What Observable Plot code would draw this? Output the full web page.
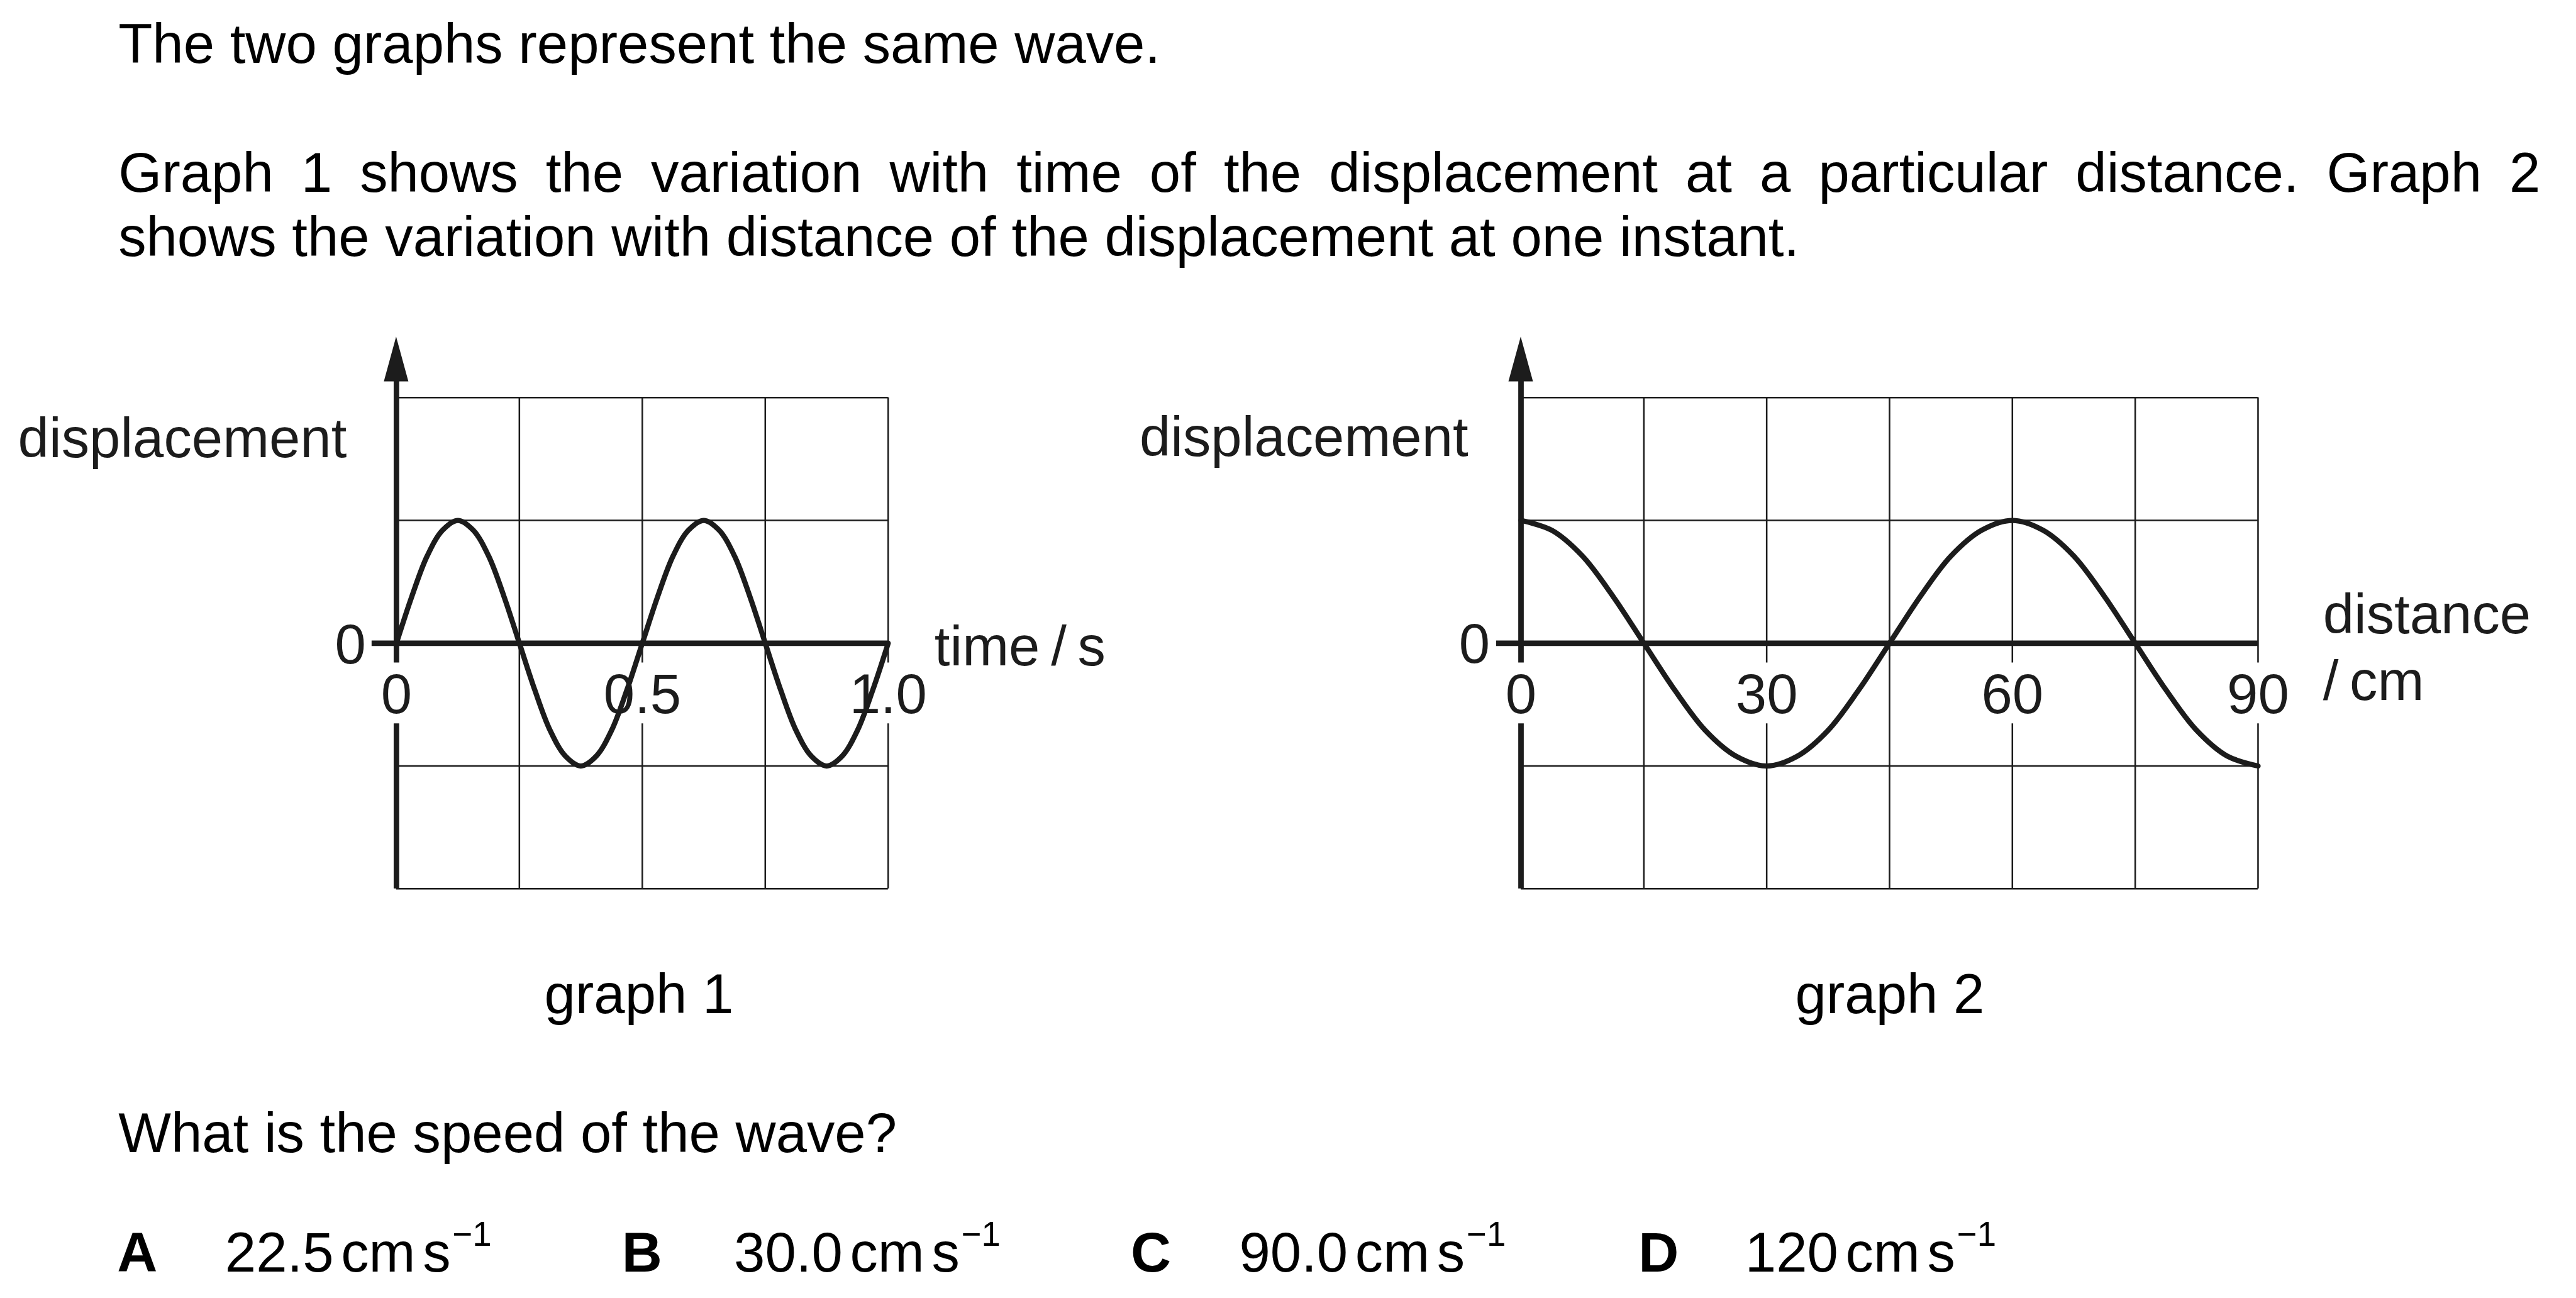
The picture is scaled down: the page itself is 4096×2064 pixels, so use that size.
<!DOCTYPE html>
<html>
<head>
<meta charset="utf-8">
<script src="https://cdn.jsdelivr.net/npm/d3@7"></script>
<script src="https://cdn.jsdelivr.net/npm/@observablehq/plot@0.6"></script>
<style>
  html, body { margin: 0; padding: 0; background: #fff; }
  #page { position: relative; width: 4096px; height: 2064px; overflow: hidden;
          font-family: "Liberation Sans", Arial, Helvetica, sans-serif; color: #000; background: #fff; }
  .t { position: absolute; white-space: nowrap; line-height: 1; }
  .plotbox { position: absolute; }
  .plotbox svg { max-width: none !important; overflow: visible; background: transparent; display: block; }
</style>
</head>
<body>
<div id="page"></div>
<script>
// ---------------- data ----------------
// graph 1: displacement (in grid squares) against time / s
const time1 = [0, 0.03125, 0.0625, 0.09375, 0.125, 0.15625, 0.1875, 0.21875, 0.25,
  0.28125, 0.3125, 0.34375, 0.375, 0.40625, 0.4375, 0.46875, 0.5,
  0.53125, 0.5625, 0.59375, 0.625, 0.65625, 0.6875, 0.71875, 0.75,
  0.78125, 0.8125, 0.84375, 0.875, 0.90625, 0.9375, 0.96875, 1.0];
const displacement1 = [0, 0.38, 0.71, 0.92, 1, 0.92, 0.71, 0.38, 0,
  -0.38, -0.71, -0.92, -1, -0.92, -0.71, -0.38, 0,
  0.38, 0.71, 0.92, 1, 0.92, 0.71, 0.38, 0,
  -0.38, -0.71, -0.92, -1, -0.92, -0.71, -0.38, 0];

// graph 2: displacement (in grid squares) against distance / cm
const distance2 = [0, 3.75, 7.5, 11.25, 15, 18.75, 22.5, 26.25, 30, 33.75, 37.5, 41.25, 45,
  48.75, 52.5, 56.25, 60, 63.75, 67.5, 71.25, 75, 78.75, 82.5, 86.25, 90];
const displacement2 = [1, 0.92, 0.71, 0.38, 0, -0.38, -0.71, -0.92, -1, -0.92, -0.71, -0.38, 0,
  0.38, 0.71, 0.92, 1, 0.92, 0.71, 0.38, 0, -0.38, -0.71, -0.92, -1];

// axes, grids and tick labels
const tickValues1 = [0, 0.5, 1.0];
const tickLabels1 = ["0", "0.5", "1.0"];
const tickValues2 = [0, 30, 60, 90];
const tickLabels2 = ["0", "30", "60", "90"];
const gridX1 = [0.25, 0.5, 0.75, 1.0];
const gridX2 = [15, 30, 45, 60, 75, 90];
const gridY = [-2, -1, 1, 2];
const yDomain = [-2, 2];

// axis titles
const yTitle = "displacement";
const xTitle1 = "time\u2009/\u2009s";
const xTitle2 = ["distance", "/\u2009cm"];

// question text
const introLine1 = "The two graphs represent the same wave.";
const introLine2 = "Graph 1 shows the variation with time of the displacement at a particular distance. Graph 2";
const introLine3 = "shows the variation with distance of the displacement at one instant.";
const captions = ["graph 1", "graph 2"];
const question = "What is the speed of the wave?";
const optionLetters = ["A", "B", "C", "D"];
const optionValues = ["22.5", "30.0", "90.0", "120"];
const optionUnits = ["cm", "s", "\u22121"];

// ---------------- layout ----------------
const K = 0.975;            // reference -> window scale
const FS = 91;              // reference font size (px)
const INK = "#1c1c1c";
const FONT = '"Liberation Sans", Arial, Helvetica, sans-serif';
const page = document.getElementById("page");

function addText(str, {left, baseline, size = FS, weight = "normal", center = null, width = null, justify = false}) {
  const el = document.createElement("div");
  el.className = "t";
  el.style.fontSize = (size * K) + "px";
  el.style.fontWeight = weight;
  el.style.top = ((baseline - 0.8465 * size) * K) + "px";
  if (center != null) {
    el.style.left = ((center - 500) * K) + "px";
    el.style.width = (1000 * K) + "px";
    el.style.textAlign = "center";
  } else {
    el.style.left = (left * K) + "px";
  }
  if (justify) {
    el.style.whiteSpace = "normal";
    el.style.width = (width * K) + "px";
    el.style.textAlign = "justify";
    el.style.textAlignLast = "justify";
  }
  el.textContent = str;
  page.appendChild(el);
  return el;
}

addText(introLine1, {left: 193, baseline: 104});
addText(introLine2, {left: 193, baseline: 314, justify: true, width: 3950});
addText(introLine3, {left: 193, baseline: 419});
addText(captions[0], {center: 1042, baseline: 1653});
addText(captions[1], {center: 3082, baseline: 1653});
addText(question, {left: 193, baseline: 1880});

const letterLeft = [191, 1014, 1844, 2672];
const valueLeft = [367, 1197, 2021, 2846];
optionLetters.forEach((L, i) => {
  addText(L, {left: letterLeft[i], baseline: 2075, weight: "bold"});
  const v = addText("", {left: valueLeft[i], baseline: 2075});
  v.appendChild(document.createTextNode(optionValues[i]));
  const cm = document.createElement("span");
  cm.textContent = optionUnits[0];
  cm.style.marginLeft = (12 * K) + "px";
  const s = document.createElement("span");
  s.textContent = optionUnits[1];
  s.style.marginLeft = (12 * K) + "px";
  const sup = document.createElement("span");
  sup.textContent = optionUnits[2];
  sup.style.fontSize = (56 * K) + "px";
  sup.style.position = "relative";
  sup.style.top = (-42 * K) + "px";
  sup.style.marginLeft = (3 * K) + "px";
  v.append(cm, s, sup);
});

// ---------------- graphs ----------------
const svgTop = 480, svgH = 1000, frameTop = 648, frameBottom = 1449;

function graph({svgLeft, svgWidth, frameLeft, frameRight, xDomain, xs, ys, gridX, tickValues, tickLabels, endLabels, startLabels}) {
  const unit = (xDomain[1] - xDomain[0]) / (frameRight - frameLeft); // data units per reference px
  const gap = [-0.655, -0.16];                // break in lines behind tick labels
  const labelled = new Set(tickValues);
  const vSegs = [];
  for (const x of gridX) {
    if (labelled.has(x)) vSegs.push({x, y1: yDomain[0], y2: gap[0]}, {x, y1: gap[1], y2: yDomain[1]});
    else vSegs.push({x, y1: yDomain[0], y2: yDomain[1]});
  }
  const axisSegs = [{x: xDomain[0], y1: yDomain[0], y2: gap[0]}, {x: xDomain[0], y1: gap[1], y2: 2.2}];
  const arrowHead = [{y: 2.13, x1: -20 * unit, x2: 20 * unit}, {y: 2.495, x1: 0, x2: 0}];
  const curve = xs.map((x, i) => ({x, y: ys[i]}));
  const textStyle = {fill: INK, fontSize: FS * K, fontFamily: FONT, lineAnchor: "bottom"};
  const plot = Plot.plot({
    width: svgWidth * K,
    height: svgH * K,
    marginLeft: (frameLeft - svgLeft) * K,
    marginRight: (svgLeft + svgWidth - frameRight) * K,
    marginTop: (frameTop - svgTop) * K,
    marginBottom: (svgTop + svgH - frameBottom) * K,
    x: {domain: xDomain, axis: null},
    y: {domain: yDomain, axis: null},
    style: {background: "transparent", overflow: "visible", fontFamily: FONT},
    marks: [
      Plot.ruleY(gridY, {x1: xDomain[0], x2: xDomain[1], stroke: INK, strokeWidth: 2.6 * K}),
      Plot.ruleX(vSegs, {x: "x", y1: "y1", y2: "y2", stroke: INK, strokeWidth: 2.6 * K}),
      Plot.ruleX(axisSegs, {x: "x", y1: "y1", y2: "y2", stroke: INK, strokeWidth: 9 * K}),
      Plot.areaX(arrowHead, {y: "y", x1: "x1", x2: "x2", fill: INK}),
      Plot.ruleY([0], {x1: -40 * unit, x2: xDomain[1], stroke: INK, strokeWidth: 9 * K}),
      Plot.line(curve, {x: "x", y: "y", curve: "catmull-rom", stroke: INK, strokeWidth: 8.5 * K}),
      Plot.text(tickValues, {x: d => d, y: -0.572, text: (d, i) => tickLabels[i], textAnchor: "middle", ...textStyle}),
      Plot.text(endLabels, {x: "x", y: "y", text: "text", textAnchor: "end", ...textStyle}),
      Plot.text(startLabels, {x: "x", y: "y", text: "text", textAnchor: "start", ...textStyle})
    ]
  });
  const box = document.createElement("div");
  box.className = "plotbox";
  box.style.left = (svgLeft * K) + "px";
  box.style.top = (svgTop * K) + "px";
  box.appendChild(plot);
  page.appendChild(box);
}

graph({
  svgLeft: 0, svgWidth: 1850, frameLeft: 646, frameRight: 1448,
  xDomain: [0, 1], xs: time1, ys: displacement1, gridX: gridX1,
  tickValues: tickValues1, tickLabels: tickLabels1,
  endLabels: [{x: -0.101, y: 1.516, text: yTitle}, {x: -0.062, y: -0.167, text: "0"}],
  startLabels: [{x: 1.094, y: -0.182, text: xTitle1}]
});

graph({
  svgLeft: 1800, svgWidth: 2401, frameLeft: 2480, frameRight: 3682,
  xDomain: [0, 90], xs: distance2, ys: displacement2, gridX: gridX2,
  tickValues: tickValues2, tickLabels: tickLabels2,
  endLabels: [{x: -6.44, y: 1.526, text: yTitle}, {x: -3.8, y: -0.162, text: "0"}],
  startLabels: [{x: 97.93, y: 0.082, text: xTitle2[0]}, {x: 97.93, y: -0.462, text: xTitle2[1]}]
});
</script>
</body>
</html>
